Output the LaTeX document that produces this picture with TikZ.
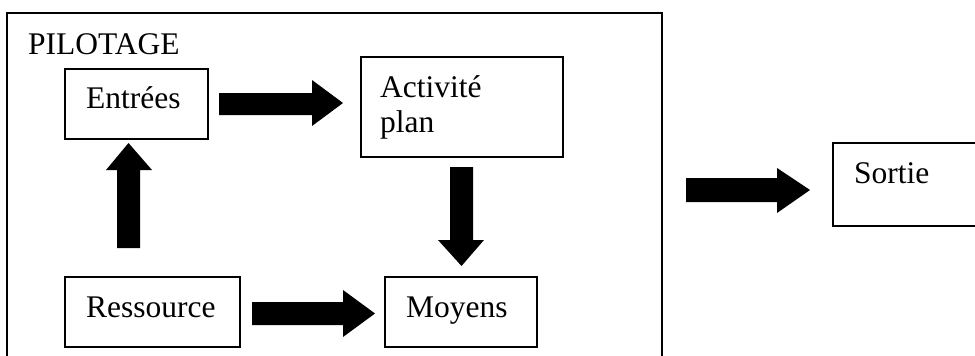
\documentclass[tikz,border=0pt]{standalone}
\usepackage{fontspec}
\setmainfont{Liberation Serif}
\begin{document}
\begin{tikzpicture}[x=1pt,y=-1pt,
  box/.style={draw,line width=1.3pt,inner sep=0pt,rectangle},
  lbl/.style={anchor=base west,inner sep=0pt,font=\fontsize{31.5}{35}\selectfont},
  blockarrow/.style={fill=black,draw=none}]
\useasboundingbox (0,0) rectangle (975,356);

% frame of the control area (open at the bottom)
\draw[line width=1.3pt] (7,360) -- (7,13) -- (662,13) -- (662,360);
\node[lbl] (pilotage) at (28,54) {PILOTAGE};

% process boxes
\node[box,minimum width=143pt,minimum height=70pt] (entrees) at (136.5,104) {};
\node[box,minimum width=202pt,minimum height=100pt] (activite) at (462,107) {};
\node[box,minimum width=175pt,minimum height=70pt] (ressource) at (152.5,312) {};
\node[box,minimum width=152pt,minimum height=70pt] (moyens) at (461,312) {};

\node[lbl] (tEntrees) at (86,108) {Entrées};
\node[lbl] (tActivite) at (380,97) {Activité};
\node[lbl] (tPlan) at (380,132) {plan};
\node[lbl] (tRessource) at (86,317) {Ressource};
\node[lbl] (tMoyens) at (406,317) {Moyens};

% output box (open on the right)
\draw[line width=1.3pt] (980,143) -- (833,143) -- (833,226) -- (980,226);
\coordinate (sortie) at (833,184.5);
\node[lbl] (tSortie) at (854,183) {Sortie};

% block arrows
\fill[blockarrow] (219,93) -- (312,93) -- (312,80) -- (343,103) -- (312,126) -- (312,115) -- (219,115) -- cycle;
\fill[blockarrow] (117,248) -- (117,170) -- (106,170) -- (128.5,143) -- (152,170) -- (140,170) -- (140,248) -- cycle;
\fill[blockarrow] (450,167) -- (473,167) -- (473,240) -- (484,240) -- (461.5,266) -- (438,240) -- (450,240) -- cycle;
\fill[blockarrow] (252,302) -- (343,302) -- (343,290) -- (375,313.5) -- (343,337) -- (343,325) -- (252,325) -- cycle;
\fill[blockarrow] (686,178) -- (777,178) -- (777,168) -- (810,190) -- (777,213) -- (777,202) -- (686,202) -- cycle;
\end{tikzpicture}
\end{document}
